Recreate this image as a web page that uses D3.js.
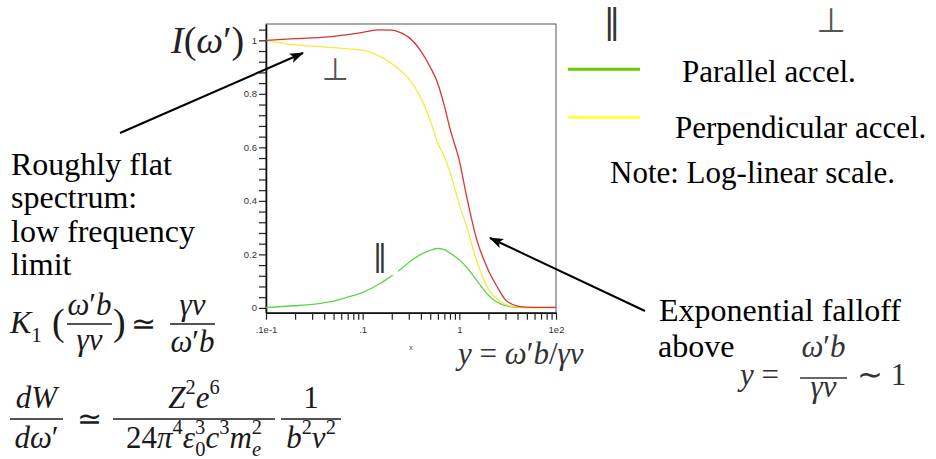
<!DOCTYPE html>
<html>
<head>
<meta charset="utf-8">
<script src="https://cdn.jsdelivr.net/npm/d3@7"></script>
<style>
  body { margin: 0; background: #fff; }
  svg { display: block; }
</style>
</head>
<body>
<div id="slide"></div>
<script>
// spectrum (log x, linear y)
var xVals      = [0.01, 0.02, 0.03, 0.05, 0.07, 0.1, 0.15, 0.2, 0.25, 0.3, 0.4, 0.5, 0.6, 0.7, 0.8, 1, 1.2, 1.5, 2, 2.5, 3, 4, 5, 7, 10];
var totalVals  = [1.0, 1.006, 1.009, 1.015, 1.021, 1.03, 1.039, 1.038, 1.028, 1.011, 0.96, 0.9, 0.838, 0.755, 0.67, 0.55, 0.41, 0.26, 0.14, 0.075, 0.03, 0.007, 0.003, 0.002, 0.002];
var perpVals   = [1.0, 0.983, 0.978, 0.973, 0.968, 0.963, 0.94, 0.913, 0.885, 0.857, 0.785, 0.70, 0.615, 0.565, 0.508, 0.386, 0.30, 0.18, 0.07, 0.03, 0.013, 0.004, 0.002, 0.002, 0.002];
var parVals    = [0.002, 0.008, 0.013, 0.025, 0.04, 0.058, 0.09, 0.12, 0.145, 0.17, 0.2, 0.215, 0.222, 0.218, 0.205, 0.18, 0.15, 0.105, 0.047, 0.02, 0.008, 0.002, 0.001, 0.001, 0.001];

var yTickVals   = [0, 0.2, 0.4, 0.6, 0.8, 1];
var yTickLabels = ["0", "0.2", "0.4", "0.6", "0.8", "1"];
var xTickVals   = [0.01, 0.1, 1, 10];
var xTickLabels = [".1e-1", ".1", "1", "1e2"];

var legendLabels = ["Parallel accel.", "Perpendicular accel."];
var leftNote = ["Roughly flat", "spectrum:", "low frequency", "limit"];

var W = 936, H = 459;
var serif = "'Liberation Serif', 'Times New Roman', serif";
var sans = "'Liberation Sans', Arial, sans-serif";
var ink = "#1a1a1a";

var svg = d3.select("#slide").append("svg")
    .attr("width", W)
    .attr("height", H)
    .style("background", "#fff");

var defs = svg.append("defs");
defs.append("marker")
    .attr("id", "head")
    .attr("viewBox", "0 0 14 10")
    .attr("refX", 13).attr("refY", 5)
    .attr("markerWidth", 14).attr("markerHeight", 10)
    .attr("markerUnits", "userSpaceOnUse")
    .attr("orient", "auto")
  .append("path")
    .attr("d", "M0,0L14,5L0,10L3,5Z")
    .attr("fill", "#000");

// ---- plot frame ----
var plot = { left: 266, right: 556, top: 24, bottom: 312.7 };

var x = d3.scaleLog().domain([0.01, 10]).range([plot.left, plot.right]);
var y = d3.scaleLinear().domain([-0.018, 1.061]).range([plot.bottom, plot.top]);

svg.append("rect")
    .attr("x", plot.left).attr("y", plot.top)
    .attr("width", plot.right - plot.left).attr("height", plot.bottom - plot.top)
    .attr("fill", "#fff")
    .attr("stroke", "#555")
    .attr("stroke-width", 1);

// minor ticks every 0.04 on y, 2..9 per decade on x
var yMinor = d3.range(0, 27).map(function(i) { return +(i * 0.04).toFixed(2); });
var xMinor = [];
[0.01, 0.1, 1].forEach(function(dec) {
    for (var k = 1; k <= 9; k++) xMinor.push(+(dec * k).toPrecision(3));
});
xMinor.push(10);

var yAxis = d3.axisLeft(y)
    .tickValues(yMinor)
    .tickSize(7)
    .tickSizeOuter(0)
    .tickPadding(2)
    .tickFormat(function(d) {
        var i = yTickVals.indexOf(d);
        return i >= 0 ? yTickLabels[i] : "";
    });

var xAxis = d3.axisBottom(x)
    .tickValues(xMinor)
    .tickSize(7)
    .tickSizeOuter(0)
    .tickPadding(7)
    .tickFormat(function(d) {
        var i = xTickVals.indexOf(d);
        return i >= 0 ? xTickLabels[i] : "";
    });

var gy = svg.append("g")
    .attr("transform", "translate(" + plot.left + ",0)")
    .call(yAxis);
var gx = svg.append("g")
    .attr("transform", "translate(0," + plot.bottom + ")")
    .call(xAxis);

[gx, gy].forEach(function(g) {
    g.select(".domain").attr("stroke", "#111").attr("stroke-width", 1.6);
    g.selectAll(".tick line").attr("stroke", "#222").attr("stroke-width", 1.2);
    g.selectAll(".tick text")
        .attr("font-family", sans)
        .attr("font-size", 9.5)
        .attr("fill", "#333");
});

// axis title
svg.append("text")
    .attr("x", 411).attr("y", 350)
    .attr("font-family", sans).attr("font-size", 8)
    .attr("fill", "#555")
    .attr("text-anchor", "middle")
    .text("x");

// ---- curves ----
var series = [
    { vals: parVals,   color: "#5fd44a" },
    { vals: perpVals,  color: "#f0ec45" },
    { vals: totalVals, color: "#d63535" }
];

var line = d3.line()
    .x(function(d) { return x(d[0]); })
    .y(function(d) { return y(d[1]); })
    .curve(d3.curveMonotoneX);

series.forEach(function(s) {
    svg.append("path")
        .datum(xVals.map(function(v, i) { return [v, s.vals[i]]; }))
        .attr("fill", "none")
        .attr("stroke", s.color)
        .attr("stroke-width", 1.3)
        .attr("d", line);
});

// ---- math helper: parts are [string, kind, dx, size] ----
function mathText(g, px, py, parts, size, anchor, fill) {
    var t = g.append("text")
        .attr("x", px).attr("y", py)
        .attr("font-family", serif)
        .attr("font-size", size)
        .attr("fill", fill || ink)
        .attr("text-anchor", anchor || "start");
    var cur = 0;
    parts.forEach(function(p) {
        var kind = p[1] || "r";
        var shift = 0, fs = p[3] || size;
        if (kind.indexOf("sup") === 0) { shift = -0.46 * size; fs = 0.66 * size; }
        if (kind.indexOf("sub") === 0) { shift = 0.27 * size; fs = 0.66 * size; }
        var ts = t.append("tspan")
            .attr("dy", shift - cur)
            .attr("font-size", fs)
            .attr("font-style", kind.slice(-1) === "i" ? "italic" : "normal")
            .text(p[0]);
        if (p[2]) ts.attr("dx", p[2]);
        cur = shift;
    });
    return t;
}

function fraction(g, cx, barY, w, num, den, size, upOff, downOff, fill) {
    mathText(g, cx, barY - upOff, num, size, "middle", fill);
    g.append("line")
        .attr("x1", cx - w / 2).attr("x2", cx + w / 2)
        .attr("y1", barY).attr("y2", barY)
        .attr("stroke", fill || ink).attr("stroke-width", 1.4);
    mathText(g, cx, barY + downOff, den, size, "middle", fill);
}

var notes = svg.append("g");

// I(omega')
mathText(notes, 171, 53, [["I", "i"], ["(", "r"], ["ω", "i"], ["′", "r"], [")", "r"]], 38, "start", "#222");

// symbols inside the plot
notes.append("rect").attr("x", 371).attr("y", 236).attr("width", 27).attr("height", 39).attr("fill", "#fff");
notes.append("text").attr("x", 380).attr("y", 266)
    .attr("font-family", "'DejaVu Serif', serif").attr("font-size", 30)
    .attr("fill", "#333").attr("text-anchor", "middle").text("‖");
notes.append("text").attr("x", 335).attr("y", 80)
    .attr("font-family", "'DejaVu Sans', sans-serif").attr("font-size", 31)
    .attr("fill", "#555").attr("text-anchor", "middle").text("⊥");

// legend headers
notes.append("text").attr("x", 612).attr("y", 33)
    .attr("font-family", "'DejaVu Serif', serif").attr("font-size", 34)
    .attr("fill", "#333").attr("text-anchor", "middle").text("‖");
notes.append("text").attr("x", 831).attr("y", 32)
    .attr("font-family", "'DejaVu Sans', sans-serif").attr("font-size", 34)
    .attr("fill", "#555").attr("text-anchor", "middle").text("⊥");

// legend swatches
var legendColors = ["#66cc00", "#ffff44"];
var legendY = [69.3, 117.3];
var legendTextX = [682, 675];
var legendTextY = [82, 138];
legendLabels.forEach(function(lab, i) {
    svg.append("line")
        .attr("x1", 568).attr("x2", 640)
        .attr("y1", legendY[i]).attr("y2", legendY[i])
        .attr("stroke", legendColors[i]).attr("stroke-width", 3);
    svg.append("text")
        .attr("x", legendTextX[i]).attr("y", legendTextY[i])
        .attr("font-family", serif).attr("font-size", 31)
        .attr("fill", "#000").text(lab);
});
svg.append("text")
    .attr("x", 610).attr("y", 183)
    .attr("font-family", serif).attr("font-size", 31)
    .attr("fill", "#000").text("Note: Log-linear scale.");

// left note
leftNote.forEach(function(s, i) {
    svg.append("text")
        .attr("x", 11).attr("y", 175 + i * 33.4)
        .attr("font-family", serif).attr("font-size", 32)
        .attr("fill", "#000").text(s);
});

// arrows
svg.append("line")
    .attr("x1", 120).attr("y1", 133).attr("x2", 303).attr("y2", 53)
    .attr("stroke", "#000").attr("stroke-width", 2)
    .attr("marker-end", "url(#head)");
svg.append("line")
    .attr("x1", 645).attr("y1", 311).attr("x2", 490).attr("y2", 238)
    .attr("stroke", "#000").attr("stroke-width", 2)
    .attr("marker-end", "url(#head)");

// K1 equation
mathText(notes, 10, 333, [["K", "i"], ["1", "sub"]], 32);
mathText(notes, 52, 335, [["(", "r"]], 38);
fraction(notes, 89.5, 324, 45, [["ω", "i"], ["′", "r"], ["b", "i"]], [["γ", "i"], ["v", "i"]], 31, 9, 26);
mathText(notes, 113, 335, [[")", "r"]], 38);
mathText(notes, 131, 334, [["≃", "r"]], 30);
fraction(notes, 192.5, 324, 45, [["γ", "i"], ["v", "i"]], [["ω", "i"], ["′", "r"], ["b", "i"]], 31, 9, 28);

// dW/dw' equation
fraction(notes, 36.5, 419, 53, [["d", "i"], ["W", "i"]], [["d", "i"], ["ω", "i"], ["′", "r"]], 31, 11, 29);
mathText(notes, 77, 429, [["≃", "r"]], 30);
fraction(notes, 194, 419, 162, [["Z", "i"], ["2", "sup"], ["e", "i"], ["6", "sup"]],
    [["24", "r"], ["π", "i"], ["4", "sup"], ["ε", "i"], ["3", "sup"], ["0", "sub", -10], ["c", "i"], ["3", "sup"], ["m", "i"], ["2", "sup"], ["e", "subi", -10]], 31, 11, 29);
fraction(notes, 311, 419, 60, [["1", "r"]], [["b", "i"], ["2", "sup"], ["v", "i"], ["2", "sup"]], 31, 11, 29);

// bottom equations
mathText(notes, 458, 364, [["y", "i"], [" = ", "r"], ["ω", "i"], ["′", "r"], ["b", "i"], ["/", "r"], ["γ", "i"], ["v", "i"]], 31, "start", "#333");
svg.append("text").attr("x", 659).attr("y", 321)
    .attr("font-family", serif).attr("font-size", 32).attr("fill", "#000").text("Exponential falloff");
svg.append("text").attr("x", 658).attr("y", 357)
    .attr("font-family", serif).attr("font-size", 32).attr("fill", "#000").text("above");
mathText(notes, 740, 385, [["y", "i"], [" =", "r"]], 31, "start", "#333");
fraction(notes, 823.5, 378, 47, [["ω", "i"], ["′", "r"], ["b", "i"]], [["γ", "i"], ["v", "i"]], 31, 21, 19, "#333");
mathText(notes, 857, 385, [["∼ 1", "r"]], 31, "start", "#333");
</script>
</body>
</html>
